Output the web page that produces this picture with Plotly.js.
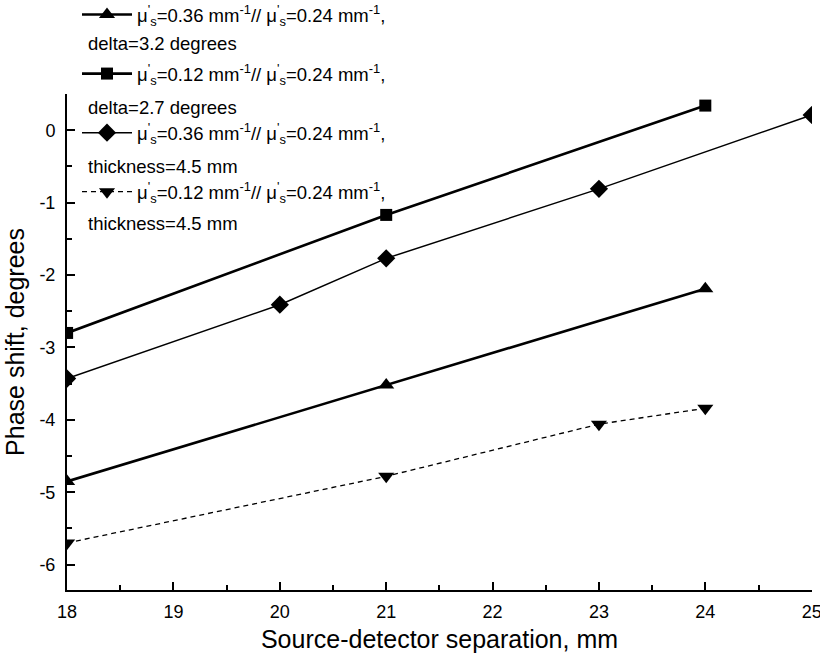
<!DOCTYPE html>
<html>
<head>
<meta charset="utf-8">
<script src="https://cdn.plot.ly/plotly-3.0.1.min.js"></script>
<style>html,body{margin:0;padding:0;background:#fff;}#chart{width:820px;height:658px;}</style>
</head>
<body>
<div id="chart"></div>
<script>
// Data
const xTri = [18, 21, 24];
const yTri = [-4.85, -3.52, -2.19];
const xSq = [18, 21, 24];
const ySq = [-2.80, -1.17, 0.34];
const xDia = [18, 20, 21, 23, 25];
const yDia = [-3.43, -2.41, -1.77, -0.81, 0.21];
const xInv = [18, 21, 23, 24];
const yInv = [-5.70, -4.78, -4.06, -3.84];

const mu = "μ<sup>'</sup><sub>s</sub>";
const legendFirst = [
  mu + "=0.36 mm<sup>-1</sup>// " + mu + "=0.24 mm<sup>-1</sup>,",
  mu + "=0.12 mm<sup>-1</sup>// " + mu + "=0.24 mm<sup>-1</sup>,",
  mu + "=0.36 mm<sup>-1</sup>// " + mu + "=0.24 mm<sup>-1</sup>,",
  mu + "=0.12 mm<sup>-1</sup>// " + mu + "=0.24 mm<sup>-1</sup>,"
];
const legendSecond = ["delta=3.2 degrees", "delta=2.7 degrees", "thickness=4.5 mm", "thickness=4.5 mm"];
const xTicks = [18, 19, 20, 21, 22, 23, 24, 25];
const yTicks = [-6, -5, -4, -3, -2, -1, 0];

const FONT = "Liberation Sans, Arial, Helvetica, sans-serif";

const traces = [
  {x: xTri, y: yTri, name: legendFirst[0], legendgroup: 'a', mode: 'lines+markers',
   line: {color: '#000', width: 2.6}, marker: {symbol: 'triangle-up', size: 14, color: '#000'}},
  {x: xSq, y: ySq, name: legendFirst[1], legendgroup: 'b', mode: 'lines+markers',
   line: {color: '#000', width: 2.6}, marker: {symbol: 'square', size: 12, color: '#000'}},
  {x: xDia, y: yDia, name: legendFirst[2], legendgroup: 'c', mode: 'lines+markers',
   line: {color: '#000', width: 1.5}, marker: {symbol: 'diamond', size: 14, color: '#000'}},
  {x: xInv, y: yInv, name: legendFirst[3], legendgroup: 'd', mode: 'lines+markers',
   line: {color: '#000', width: 1.3, dash: '5px,4px'}, marker: {symbol: 'triangle-down', size: 14, color: '#000'}}
];

const L = 67, R = 8, T = 94, B = 68, W = 820, H = 658;
const pw = W - L - R, ph = H - T - B;
const px = v => (v - L) / pw;
const py = v => (H - B - v) / ph;

const secondY = [44, 108, 166, 223];
const annotations = legendSecond.map((t, i) => ({
  text: t, xref: 'paper', yref: 'paper', x: px(86), y: py(secondY[i]),
  xanchor: 'left', yanchor: 'middle', showarrow: false,
  font: {family: FONT, size: 18.5, color: '#000'}
}));

const layout = {
  width: W, height: H,
  margin: {l: L, r: R, t: T, b: B, pad: 0, autoexpand: false},
  paper_bgcolor: '#fff', plot_bgcolor: '#fff',
  font: {family: FONT, color: '#000', size: 18},
  showlegend: true,
  legend: {
    x: px(77), y: py(-4), xanchor: 'left', yanchor: 'top',
    xref: 'paper', yref: 'paper',
    bgcolor: 'rgba(0,0,0,0)', borderwidth: 0,
    font: {family: FONT, size: 18.5, color: '#000'},
    traceorder: 'grouped', tracegroupgap: 32, itemwidth: 50,
    itemclick: false
  },
  xaxis: {
    range: [17.999, 25.003], tickvals: xTicks, ticktext: xTicks.map(String),
    showline: true, linecolor: '#000', linewidth: 2, mirror: false,
    ticks: 'inside', ticklen: 8, tickwidth: 2, tickcolor: '#000',
    minor: {dtick: 0.5, tick0: 18, ticks: 'inside', ticklen: 5, tickwidth: 2, tickcolor: '#000', showgrid: false},
    showgrid: false, zeroline: false, ticklabeloverflow: 'allow',
    tickfont: {family: FONT, size: 18}, ticklabelstandoff: 4,
    title: {text: 'Source-detector separation, mm', font: {family: FONT, size: 25}, standoff: 10}
  },
  yaxis: {
    range: [-6.35, 0.5], tickvals: yTicks, ticktext: yTicks.map(String),
    showline: true, linecolor: '#000', linewidth: 2, mirror: false,
    ticks: 'inside', ticklen: 8, tickwidth: 2, tickcolor: '#000',
    minor: {dtick: 0.5, tick0: 0, ticks: 'inside', ticklen: 5, tickwidth: 2, tickcolor: '#000', showgrid: false},
    showgrid: false, zeroline: false,
    tickfont: {family: FONT, size: 18}, ticklabelstandoff: 6,
    title: {text: 'Phase shift, degrees', font: {family: FONT, size: 25}, standoff: 8}
  },
  annotations: annotations
};

Plotly.newPlot('chart', traces, layout, {displayModeBar: false, staticPlot: true});
</script>
</body>
</html>
